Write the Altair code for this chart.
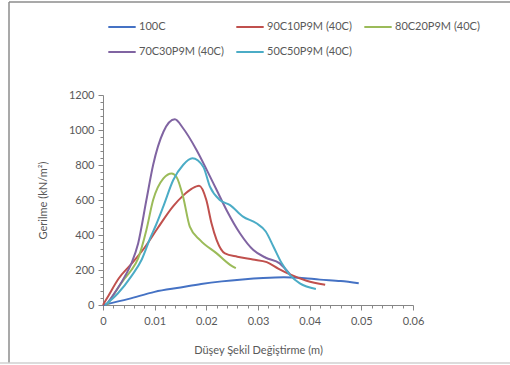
import altair as alt
import pandas as pd

names = ["100C", "90C10P9M (40C)", "80C20P9M (40C)", "70C30P9M (40C)", "50C50P9M (40C)"]
colors = ["#4572C4", "#C0504D", "#9BBB59", "#8064A2", "#4BACC6"]

x_100c = [0, 0.005, 0.010, 0.015, 0.019, 0.023, 0.027, 0.031, 0.035, 0.038, 0.042, 0.046, 0.0495]
y_100c = [0, 35, 75, 100, 120, 135, 146, 154, 158, 156, 145, 137, 124]

x_90c = [0, 0.001, 0.003, 0.0055, 0.0081, 0.0106, 0.0136, 0.0155, 0.0172, 0.0186, 0.0200, 0.0210,
         0.0220, 0.0236, 0.0260, 0.0290, 0.0317, 0.0340, 0.0362, 0.0394, 0.0430]
y_90c = [0, 50, 150, 235, 330, 440, 565, 625, 665, 682, 600, 467,
         371, 295, 276, 260, 245, 207, 175, 139, 116]

x_80c = [0.0008, 0.0042, 0.0055, 0.0068, 0.0084, 0.0097, 0.0117, 0.0133, 0.0142, 0.0155, 0.0168,
         0.0188, 0.0220, 0.0246, 0.0257]
y_80c = [0, 152, 200, 267, 429, 600, 724, 752, 733, 619, 448, 371, 295, 229, 210]

x_70c = [0.0006, 0.0042, 0.0055, 0.0068, 0.0084, 0.0097, 0.0117, 0.0139, 0.0155, 0.0181, 0.0201,
         0.0220, 0.0239, 0.0265, 0.0291, 0.0315, 0.0342, 0.0362]
y_70c = [0, 162, 238, 352, 600, 800, 990, 1061, 1010, 886, 771, 657, 543, 410, 314, 270, 238, 175]

x_50c = [0.0004, 0.0029, 0.0055, 0.0075, 0.0091, 0.0103, 0.0117, 0.0136, 0.0155, 0.0173, 0.0194,
         0.0207, 0.0226, 0.0246, 0.0271, 0.0297, 0.0315, 0.0330, 0.0346, 0.0362, 0.0381, 0.0412]
y_50c = [0, 67, 165, 260, 380, 460, 565, 714, 800, 838, 790, 676, 600, 571, 505, 467, 420, 333, 238,
         171, 124, 92]

x_ticks = [round(i * 0.002, 3) for i in range(31)]
y_ticks = [i * 40 for i in range(31)]

series = [(names[0], x_100c, y_100c), (names[1], x_90c, y_90c), (names[2], x_80c, y_80c),
          (names[3], x_70c, y_70c), (names[4], x_50c, y_50c)]
rows = []
for n, xs, ys in series:
    for a, b in zip(xs, ys):
        rows.append({"series": n, "x": a, "y": b})
df = pd.DataFrame(rows)

FONT = "Lato"
TXT = "#595959"
AX = "#868686"

x_axis = alt.Axis(
    values=x_ticks,
    labelExpr="abs(datum.value*100 - round(datum.value*100)) < 0.001 ? format(datum.value, '.2~f') : ''",
    tickSize={"condition": {"test": "abs(datum.value*100 - round(datum.value*100)) < 0.001", "value": 5}, "value": 3},
    title="Düşey Şekil Değiştirme (m)",
    grid=False, labelPadding=5, titlePadding=18, labelFlush=False,
)
y_axis = alt.Axis(
    values=y_ticks,
    labelExpr="datum.value % 200 == 0 ? format(datum.value, 'd') : ''",
    tickSize={"condition": {"test": "datum.value % 200 == 0", "value": 5}, "value": 3},
    title="Gerilme (kN/m²)",
    grid=False, labelPadding=4, titlePadding=20,
)

lines = alt.Chart(df).mark_line(interpolate="monotone", strokeWidth=2).encode(
    x=alt.X("x:Q", scale=alt.Scale(domain=[0, 0.06], nice=False, zero=True), axis=x_axis),
    y=alt.Y("y:Q", scale=alt.Scale(domain=[0, 1200], nice=False), axis=y_axis),
    color=alt.Color("series:N", scale=alt.Scale(domain=names, range=colors),
                    legend=alt.Legend(title=None, orient="none", legendX=4, legendY=-83, columns=3,
                                      direction="horizontal",
                                      symbolType="stroke", symbolSize=750, symbolStrokeWidth=2,
                                      labelFont=FONT, labelFontSize=11, labelColor=TXT,
                                      labelOffset=2, columnPadding=8, rowPadding=5)),
)

one = pd.DataFrame({"a": [0]})
left_border = alt.Chart(one).mark_rule(color="#8c8c8c", strokeWidth=1.5).encode(
    x=alt.value(-94), y=alt.value(-93), y2=alt.value(268))
top_border = alt.Chart(one).mark_rule(color="#8c8c8c", strokeWidth=1.5).encode(
    x=alt.value(-94), x2=alt.value(420), y=alt.value(-93))
bottom_border = alt.Chart(one).mark_rule(color="#d0d0d0", strokeWidth=1.5).encode(
    x=alt.value(-103), x2=alt.value(420), y=alt.value(268))

chart = alt.layer(lines, left_border, top_border, bottom_border).properties(
    width=310, height=210,
    autosize=alt.AutoSizeParams(type="none"),
    padding={"left": 103, "top": 95, "right": 97, "bottom": 60},
    background="white",
).configure_view(stroke=None).configure_axis(
    domainColor=AX, tickColor=AX, labelFont=FONT, titleFont=FONT, labelFontSize=11,
    titleFontSize=11, labelColor=TXT, titleColor=TXT, titleFontWeight="normal",
)

chart.save("out.html", embed_options={"renderer": "svg", "actions": False})
